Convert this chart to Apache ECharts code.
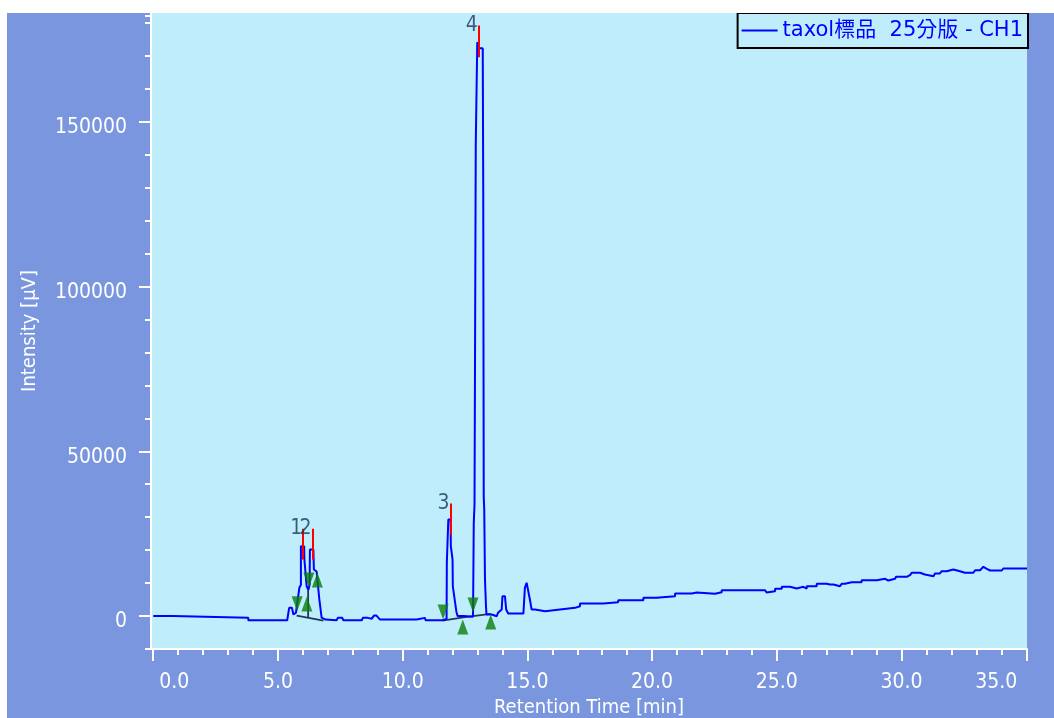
<!DOCTYPE html>
<html>
<head>
<meta charset="utf-8">
<script src="https://cdn.jsdelivr.net/npm/echarts@6/dist/echarts.min.js"></script>
<style>
  html, body { margin: 0; padding: 0; background: #ffffff; }
  #chart { position: absolute; left: 7px; top: 13px; width: 1047px; height: 705px; }
</style>
</head>
<body>
<div id="chart"></div>
<script>
// Chromatogram trace: retention time [min] and detector intensity [µV]
const timeMin = [
  0.00, 0.78, 0.78, 3.81, 3.81, 5.37, 5.45, 5.56, 5.62, 5.72, 5.86, 5.92, 5.92, 6.05, 6.06, 6.15,
  6.22, 6.27, 6.28, 6.42, 6.44, 6.55, 6.60, 6.66, 6.75, 6.90, 6.95, 6.95, 7.35, 7.40, 7.58, 7.62,
  8.36, 8.40, 8.60, 8.65, 8.76, 8.85, 8.95, 9.09, 10.56, 10.60, 10.89, 10.92, 11.60, 11.62, 11.76, 11.77,
  11.83, 11.83, 11.92, 11.93, 12.00, 12.01, 12.08, 12.15, 12.20, 12.45, 12.46, 12.82, 12.83, 12.85,
  12.88, 12.93, 12.99, 13.07, 13.08, 13.21, 13.23, 13.25, 13.27, 13.30, 13.34, 13.36, 13.57, 13.58,
  13.77, 13.82, 13.90, 13.97, 14.00, 14.10, 14.15, 14.23, 14.84, 14.90, 14.97, 15.04, 15.10, 15.17,
  15.30, 15.37, 15.71, 15.71, 16.31, 16.31, 16.91, 16.91, 17.11, 17.11, 18.04, 18.04, 18.64, 18.64,
  19.65, 19.65, 20.18, 20.18, 20.92, 20.92, 21.59, 21.59, 21.79, 21.79, 22.52, 22.52, 22.79, 22.79,
  23.92, 23.99, 24.06, 24.53, 24.59, 24.66, 24.93, 24.93, 25.20, 25.20, 25.53, 25.53, 25.80, 25.80,
  26.06, 26.06, 26.20, 26.20, 26.60, 26.60, 27.00, 27.06, 27.13, 27.27, 27.27, 27.53, 27.60, 27.73,
  27.73, 28.00, 28.07, 28.14, 28.40, 28.40, 29.01, 29.01, 29.34, 29.41, 29.47, 29.54, 29.74, 29.78,
  30.21, 30.21, 30.34, 30.41, 30.74, 30.81, 30.94, 31.01, 31.28, 31.34, 31.54, 31.61, 31.81, 31.88,
  32.08, 32.14, 32.34, 32.41, 32.54, 32.61, 32.75, 32.88, 32.95, 33.15, 33.28, 33.42, 33.55, 34.02,
  34.08, 35.03
];
const signalUv = [
  0, 0, -550, -550, -1280, -1280, 2490, 2490, 460, 1000, 8660, 9500, 21200, 21200, 17160, 9050,
  8000, 9500, 20200, 20200, 14130, 13500, 9570, 5000, -460, -1060, -1060, -1280, -1280, -550, -550, -1280,
  -1280, -550, -550, -1000, -800, 150, 150, -1060, -1060, -550, -550, -1280, -1280, -850, -850, 16160,
  16160, 29320, 29320, 21200, 17160, 9050, 8570, 1460, 0, 0, -240, -240, 0, 28310,
  33870, 143000, 174140, 174140, 172310, 172310, 130000, 36000, 32350, 11090, 2980, 460, 460, -60,
  -60, 970, 970, 1975, 6020, 6020, 1975, 760, 760, 8570, 10090, 10090, 5010, 1975,
  1975, 1460, 1460, 1975, 1975, 2490, 2490, 2980, 2980, 3800, 3800, 4190, 4190, 4800,
  4800, 5530, 5530, 6020, 6020, 6840, 6840, 7140, 7140, 6740, 6740, 7230, 7230, 7840,
  7840, 8350, 7840, 7840, 7140, 7530, 7530, 8260, 8260, 8870, 8870, 8350, 8350, 8870,
  8870, 8350, 8350, 9050, 9050, 9780, 9780, 10090, 9570, 9570, 9050, 9050, 9780, 9780,
  10270, 10270, 9870, 10270, 10270, 10880, 10880, 11300, 11300, 10790, 10790, 11300, 11300, 11910,
  11910, 12400, 12400, 13120, 13120, 12610, 12610, 12090, 12090, 12910, 12910, 13610, 13610, 14130,
  14130, 13610, 13610, 13120, 13120, 12610, 13120, 13120, 13910, 13910, 14950, 14340, 13820, 13820,
  14430, 14430
];

// Integrated peaks: apex marker (red) and start / end markers (green)
const peakNames = ['1', '2', '3', '4'];
const apexTime = [6.01, 6.39, 11.92, 13.05];
const apexMarkTop = [26490, 26490, 34180, 179180];
const apexMarkBottom = [17160, 17160, 24760, 169590];
const peakStartTime = [5.77, 6.24, 11.62, 12.82];
const peakStartUv = [1460, 8660, -1060, 1060];
const peakEndTime = [6.16, 6.58, 12.41, 13.53];
const peakEndUv = [5920, 13210, -1060, 460];

// Integration baselines and the perpendicular drop between peaks 1 and 2
const baselineGroup12 = [[5.75, 150], [6.82, -1370]];
const dropLine12 = [[6.21, 9050], [6.21, -550]];
const baselineGroup34 = [[11.60, -1410], [12.43, -380], [13.52, 630]];

// Axis ticks
const xMajorTicks = [0, 5, 10, 15, 20, 25, 30, 35];
const xMinorTicks = [1, 2, 3, 4, 6, 7, 8, 9, 11, 12, 13, 14, 16, 17, 18, 19, 21, 22, 23, 24, 26, 27, 28, 29, 31, 32, 33, 34];
const yMajorTicks = [0, 50000, 100000, 150000];
const yMinorTicks = [-10000, 10000, 20000, 30000, 40000, 60000, 70000, 80000, 90000, 110000, 120000, 130000, 140000, 160000, 170000, 180000, 182200];

const seriesName = 'taxol標品  25分版 - CH1';

const FONT = "'DejaVu Sans Condensed', 'DejaVu Sans', 'Noto Sans CJK TC', sans-serif";
const LEGEND_FONT = "'DejaVu Sans', 'Noto Sans CJK TC', sans-serif";
const WHITE = '#ffffff';
const PLOT_BG = '#c0edfc';
const X_MIN = -0.09, X_MAX = 35.03, Y_MIN = -10000, Y_MAX = 183000;

const tracePoints = timeMin.map((t, i) => [t, signalUv[i]]);
const apexSegments = apexTime.map((t, i) => ({ coords: [[t, apexMarkTop[i]], [t, apexMarkBottom[i]]] }));
const labelPoints = apexTime.map((t, i) => ({ value: [t, apexMarkTop[i]], name: peakNames[i] }));
const startPoints = peakStartTime.map((t, i) => [t, peakStartUv[i]]);
const endPoints = peakEndTime.map((t, i) => [t, peakEndUv[i]]);

const chart = echarts.init(document.getElementById('chart'), null, { renderer: 'canvas' });

const firstTick = xMajorTicks[0];
const lastTick = xMajorTicks[xMajorTicks.length - 1];

chart.setOption({
  animation: false,
  backgroundColor: '#7a96de',
  grid: {
    left: 144, right: 27, top: 0, bottom: 69,
    outerBoundsMode: 'none',
    show: true, backgroundColor: PLOT_BG, borderWidth: 0
  },
  legend: {
    data: [seriesName],
    selectedMode: false,
    right: 26, top: 0,
    icon: 'rect', itemWidth: 36, itemHeight: 2,
    padding: [7, 5, 7, 4],
    borderColor: '#000000', borderWidth: 2,
    backgroundColor: PLOT_BG,
    textStyle: { color: '#0000ff', fontSize: 21, fontFamily: LEGEND_FONT }
  },
  xAxis: [
    {
      type: 'value', min: X_MIN, max: X_MAX, position: 'bottom',
      name: 'Retention Time [min]', nameLocation: 'middle', nameGap: 47,
      nameTextStyle: { color: WHITE, fontSize: 20, fontFamily: FONT },
      axisLine: { show: true, onZero: false, lineStyle: { color: WHITE, width: 2 } },
      axisTick: { show: true, customValues: xMajorTicks, length: 12, lineStyle: { color: WHITE, width: 2 } },
      axisLabel: {
        customValues: xMajorTicks, color: WHITE, fontSize: 21, fontFamily: FONT, margin: 23,
        formatter: v => {
          const s = v.toFixed(1);
          if (v === firstTick) return '{first|' + s + '}';
          if (v === lastTick) return '{last|' + s + '}';
          return s;
        },
        rich: {
          first: { padding: [0, 0, 0, 42], color: WHITE, fontSize: 21, fontFamily: FONT },
          last: { padding: [0, 60, 0, 0], color: WHITE, fontSize: 21, fontFamily: FONT }
        }
      },
      splitLine: { show: false }
    },
    {
      type: 'value', min: X_MIN, max: X_MAX, position: 'bottom',
      axisLine: { show: false, onZero: false },
      axisTick: { show: true, customValues: xMinorTicks, length: 6, lineStyle: { color: WHITE, width: 2 } },
      axisLabel: { show: false },
      splitLine: { show: false }
    }
  ],
  yAxis: [
    {
      type: 'value', min: Y_MIN, max: Y_MAX, position: 'left',
      name: 'Intensity [μV]', nameLocation: 'middle', nameGap: 111, nameRotate: 90,
      nameTextStyle: { color: WHITE, fontSize: 20, fontFamily: FONT },
      axisLine: { show: true, onZero: false, lineStyle: { color: WHITE, width: 2 } },
      axisTick: { show: true, customValues: yMajorTicks, length: 12, lineStyle: { color: WHITE, width: 2 } },
      axisLabel: {
        customValues: yMajorTicks, color: WHITE, fontSize: 21, fontFamily: FONT, margin: 24,
        verticalAlign: 'top', lineHeight: 12, formatter: v => String(v)
      },
      splitLine: { show: false }
    },
    {
      type: 'value', min: Y_MIN, max: Y_MAX, position: 'left',
      axisLine: { show: false, onZero: false },
      axisTick: { show: true, customValues: yMinorTicks, length: 6, lineStyle: { color: WHITE, width: 2 } },
      axisLabel: { show: false },
      splitLine: { show: false }
    }
  ],
  series: [
    {
      name: 'baselines', type: 'lines', coordinateSystem: 'cartesian2d', polyline: true,
      xAxisIndex: 0, yAxisIndex: 0, z: 2,
      lineStyle: { color: '#1d3a58', width: 1.8, opacity: 1 },
      data: [{ coords: baselineGroup12 }, { coords: dropLine12 }, { coords: baselineGroup34 }]
    },
    {
      name: seriesName, type: 'line', xAxisIndex: 0, yAxisIndex: 0, z: 3,
      data: tracePoints, symbol: 'none',
      itemStyle: { color: '#0000ff' },
      lineStyle: { color: '#0000ff', width: 2 }
    },
    {
      name: 'apex', type: 'lines', coordinateSystem: 'cartesian2d',
      xAxisIndex: 0, yAxisIndex: 0, z: 4,
      lineStyle: { color: '#ff0000', width: 2, opacity: 1 },
      data: apexSegments
    },
    {
      name: 'start', type: 'scatter', xAxisIndex: 0, yAxisIndex: 0, z: 5,
      symbol: 'triangle', symbolSize: [11, 15], symbolRotate: 180, symbolOffset: [0, -7.5],
      itemStyle: { color: '#0a7d0a' },
      data: startPoints
    },
    {
      name: 'end', type: 'scatter', xAxisIndex: 0, yAxisIndex: 0, z: 5,
      symbol: 'triangle', symbolSize: [11, 15], symbolOffset: [0, 7.5],
      itemStyle: { color: '#0a7d0a' },
      data: endPoints
    },
    {
      name: 'peak labels', type: 'scatter', xAxisIndex: 0, yAxisIndex: 0, z: 6,
      symbolSize: 0,
      label: {
        show: true, position: 'left', distance: 1,
        formatter: p => p.name,
        color: '#16365a', fontSize: 21, fontFamily: FONT
      },
      data: labelPoints
    }
  ]
});
</script>
</body>
</html>
